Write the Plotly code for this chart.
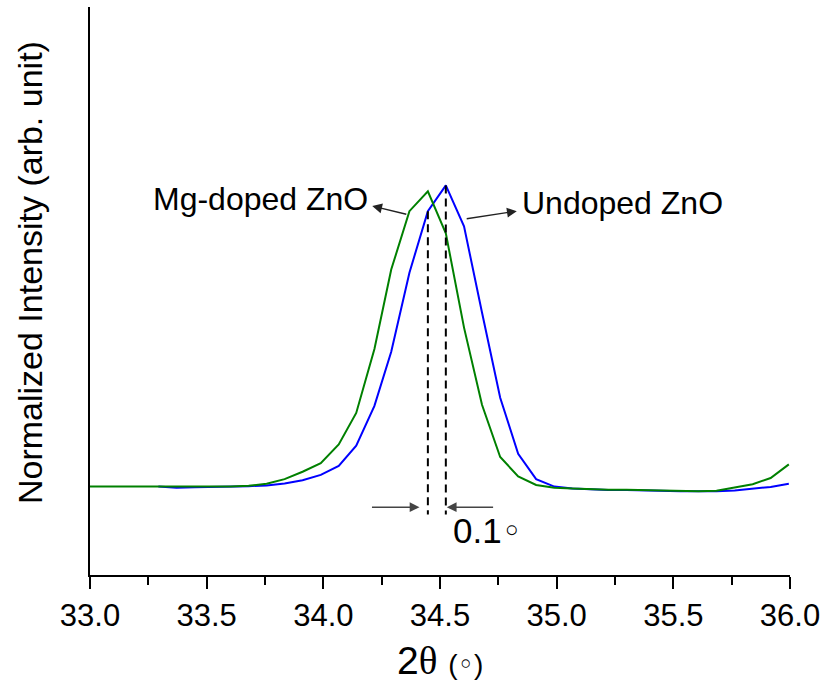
import plotly.graph_objects as go

# ---- data ----
green_x = [32.984, 33.061, 33.139, 33.216, 33.293, 33.371, 33.448, 33.525, 33.602, 33.680,
           33.757, 33.834, 33.911, 33.989, 34.066, 34.141, 34.219, 34.291, 34.369, 34.448,
           34.525, 34.603, 34.680, 34.758, 34.835, 34.912, 34.990, 35.067, 35.144, 35.221,
           35.299, 35.376, 35.453, 35.531, 35.608, 35.685, 35.763, 35.840, 35.917, 35.995]
green_y = [0.227, 0.227, 0.227, 0.227, 0.227, 0.227, 0.227, 0.227, 0.227, 0.229,
           0.234, 0.246, 0.265, 0.287, 0.335, 0.416, 0.580, 0.784, 0.934, 0.985,
           0.877, 0.635, 0.437, 0.303, 0.253, 0.231, 0.224, 0.222, 0.220, 0.219,
           0.219, 0.218, 0.216, 0.215, 0.215, 0.216, 0.225, 0.233, 0.249, 0.284]

blue_x = [33.293, 33.371, 33.448, 33.525, 33.602, 33.680, 33.757, 33.834, 33.911, 33.989,
          34.066, 34.141, 34.219, 34.291, 34.369, 34.448, 34.525, 34.603, 34.680, 34.758,
          34.835, 34.912, 34.990, 35.067, 35.144, 35.221, 35.299, 35.376, 35.453, 35.531,
          35.608, 35.685, 35.763, 35.840, 35.917, 35.995]
blue_y = [0.227, 0.224, 0.225, 0.226, 0.226, 0.228, 0.230, 0.235, 0.243, 0.257,
          0.280, 0.332, 0.434, 0.573, 0.776, 0.934, 1.000, 0.895, 0.674, 0.455,
          0.311, 0.246, 0.227, 0.222, 0.220, 0.218, 0.218, 0.217, 0.215, 0.215,
          0.215, 0.215, 0.217, 0.221, 0.226, 0.234]

x_range = [33.0, 36.0]
y_range = [0.0, 1.458]
dash_bottom = 0.155

FONT = "Liberation Sans, Arial, sans-serif"

fig = go.Figure()
fig.add_trace(go.Scatter(x=blue_x, y=blue_y, mode="lines",
                         line=dict(color="#0000FF", width=2), name="Undoped ZnO"))
fig.add_trace(go.Scatter(x=green_x, y=green_y, mode="lines",
                         line=dict(color="#008000", width=2), name="Mg-doped ZnO"))

# dashed peak markers
gi = green_y.index(max(green_y))
bi = blue_y.index(max(blue_y))
gpx = green_x[gi]
bpx = blue_x[bi]
left_top = blue_y[blue_x.index(gpx)]
fig.add_trace(go.Scatter(x=[gpx, gpx], y=[left_top, dash_bottom], mode="lines",
                         line=dict(color="black", width=2, dash="8px,5px"), showlegend=False))
fig.add_trace(go.Scatter(x=[bpx, bpx], y=[max(blue_y), dash_bottom], mode="lines",
                         line=dict(color="black", width=2, dash="8px,5px"), showlegend=False))

annots = []
# label arrows
annots.append(dict(x=34.2095, y=0.947, ax=gpx - 0.086, ay=0.925, xref="x", yref="y",
                   axref="x", ayref="y", text="", showarrow=True, arrowhead=2,
                   arrowsize=1.4, arrowwidth=1.4, arrowcolor="#222"))
annots.append(dict(x=34.829, y=0.934, ax=bpx + 0.083, ay=0.914, xref="x", yref="y",
                   axref="x", ayref="y", text="", showarrow=True, arrowhead=2,
                   arrowsize=1.4, arrowwidth=1.4, arrowcolor="#222"))
annots.append(dict(x=34.200, y=0.966, xref="x", yref="y", text="Mg-doped ZnO",
                   showarrow=False, xanchor="right", yanchor="middle",
                   font=dict(family=FONT, size=32, color="black")))
annots.append(dict(x=34.843, y=0.954, xref="x", yref="y", text="Undoped ZnO",
                   showarrow=False, xanchor="left", yanchor="middle",
                   font=dict(family=FONT, size=32, color="black")))
# 0.1 deg arrows
annots.append(dict(x=34.412, y=0.174, ax=34.202, ay=0.174, xref="x", yref="y",
                   axref="x", ayref="y", text="", showarrow=True, arrowhead=2,
                   arrowsize=1.4, arrowwidth=1.4, arrowcolor="#444"))
annots.append(dict(x=34.529, y=0.174, ax=34.734, ay=0.174, xref="x", yref="y",
                   axref="x", ayref="y", text="", showarrow=True, arrowhead=2,
                   arrowsize=1.4, arrowwidth=1.4, arrowcolor="#444"))
annots.append(dict(x=34.545, y=0.113, xref="x", yref="y",
                   text="0.1<span style='font-family:DejaVu Sans;font-size:34px'>\u25e6</span>",
                   showarrow=False, xanchor="left", yanchor="middle",
                   font=dict(family=FONT, size=35, color="black")))
# axis titles
annots.append(dict(x=0.5, y=-0.15, xref="paper", yref="paper",
                   text="2<span style='font-family:Liberation Serif'>\u03b8</span> "
                        "<span style='font-size:28px'>(<span style='font-family:DejaVu Sans'>\u25e6</span>)</span>",
                   showarrow=False, xanchor="center", yanchor="middle",
                   font=dict(family=FONT, size=39, color="black")))
annots.append(dict(x=-0.086, y=0.533, xref="paper", yref="paper",
                   text="Normalized Intensity (arb. unit)", textangle=-90,
                   showarrow=False, xanchor="center", yanchor="middle",
                   font=dict(family=FONT, size=34, color="black")))

fig.update_layout(
    width=826, height=689,
    margin=dict(l=90, r=36, t=7, b=114),
    paper_bgcolor="white", plot_bgcolor="white",
    showlegend=False,
    annotations=annots,
    font=dict(family=FONT, color="black"),
)
fig.update_xaxes(range=x_range, showline=True, linecolor="black", linewidth=2,
                 showgrid=False, zeroline=False, ticks="outside", ticklen=12,
                 tickwidth=2, tickcolor="black", dtick=0.5, tick0=33.0,
                 tickformat=".1f", tickfont=dict(family=FONT, size=31, color="black"),
                 minor=dict(ticks="outside", ticklen=8, tickwidth=2,
                            tickcolor="black", dtick=0.25))
fig.update_yaxes(range=y_range, showline=True, linecolor="black", linewidth=2,
                 showgrid=False, zeroline=False, ticks="", showticklabels=False)

fig.write_html("out.html")
